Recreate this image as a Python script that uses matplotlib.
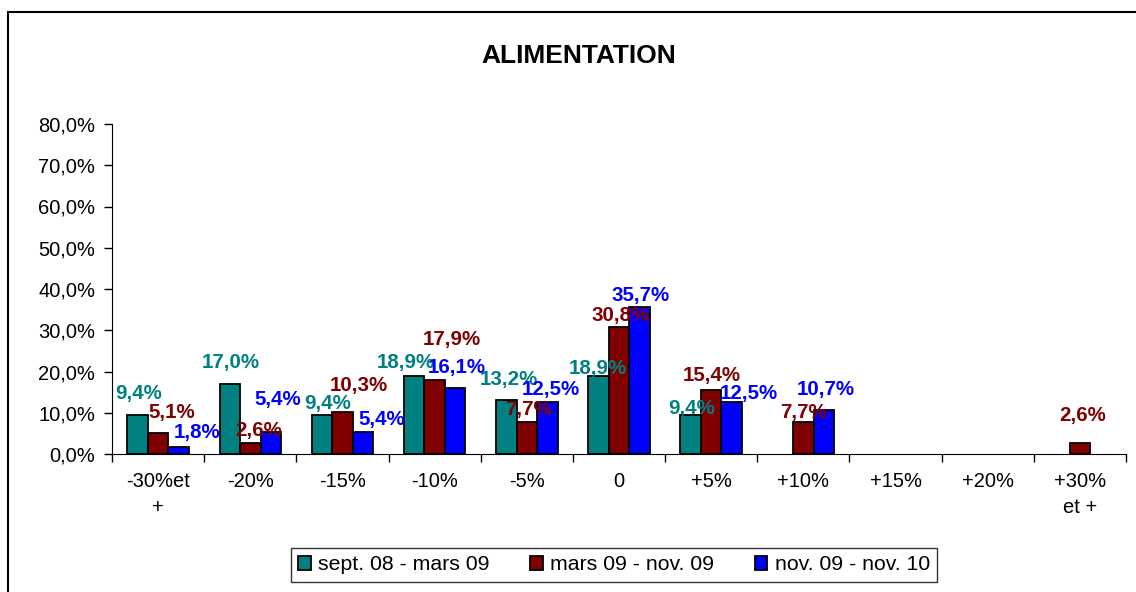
import numpy as np
import matplotlib.pyplot as plt
from matplotlib.patches import Rectangle

plt.rcParams['font.family'] = ['Liberation Sans', 'DejaVu Sans']

# Données
categories = ['-30%et\n+', '-20%', '-15%', '-10%', '-5%', '0', '+5%', '+10%', '+15%', '+20%', '+30%\net +']
series_names = ['sept. 08 - mars 09', 'mars 09 - nov. 09', 'nov. 09 - nov. 10']
sept08_mars09 = [9.4, 17.0, 9.4, 18.9, 13.2, 18.9, 9.4, np.nan, np.nan, np.nan, np.nan]
mars09_nov09 = [5.1, 2.6, 10.3, 17.9, 7.7, 30.8, 15.4, 7.7, np.nan, np.nan, 2.6]
nov09_nov10 = [1.8, 5.4, 5.4, 16.1, 12.5, 35.7, 12.5, 10.7, np.nan, np.nan, np.nan]
yticks = [0, 10, 20, 30, 40, 50, 60, 70, 80]

colors = ['#008080', '#800000', '#0000FF']

# décalage des étiquettes (dx, dy en pixels), comme placées dans l'original
label_nudge = [
    [(1, 16), (1, 16), (6, 6), (-8, 8), (3, 15), (-1, 2), (1, 1), None, None, None, None],
    [(14, 15), (8, 7), (16, 21), (17, 35), (2, 7), (2, 6), (1, 9), (0, 4), None, None, (3, 22)],
    [(19, 9), (7, 27), (19, 7), (2, 15), (4, 7), (1, 6), (17, 3), (2, 15), None, None, None],
]

fig = plt.figure(figsize=(11.36, 5.92), dpi=100)
ax = fig.add_axes([112/1136, 1 - 454/592, (1126 - 112)/1136, (454 - 124)/592])

x = np.arange(len(categories))
w = 0.222
px2pt = 72 / 100
for i, (vals, name, c) in enumerate(zip([sept08_mars09, mars09_nov09, nov09_nov10], series_names, colors)):
    pos = x + (i - 1) * w
    ax.bar(pos, vals, width=w, color=c, edgecolor='black', linewidth=1.3, label=name)
    for j, (px, v) in enumerate(zip(pos, vals)):
        if np.isnan(v):
            continue
        dx, dy = label_nudge[i][j]
        ax.annotate(f"{v:.1f}%".replace('.', ','), (px, v), xytext=(dx * px2pt, dy * px2pt),
                    textcoords='offset points', ha='center', va='baseline',
                    color=c, fontsize=14.8, fontweight='bold')

ax.set_xlim(-0.5, len(categories) - 0.5)
ax.set_ylim(0, 80)
ax.set_yticks(yticks)
ax.set_yticklabels([f"{t:.1f}%".replace('.', ',') for t in yticks], fontsize=14.5)

# graduations de l'axe x entre les catégories
ax.set_xticks(np.arange(len(categories) + 1) - 0.5)
ax.set_xticklabels([])
ax.set_xticks(x, minor=True)
ax.set_xticklabels(categories, minor=True, fontsize=14.5, linespacing=1.45)
ax.tick_params(axis='x', which='minor', length=0, pad=13)
ax.tick_params(axis='x', which='major', length=6, direction='out', width=1)
ax.tick_params(axis='y', length=6, direction='out', width=1, pad=6)

ax.spines['top'].set_visible(False)
ax.spines['right'].set_visible(False)

fig.text(579/1136, 1 - 56/592, 'ALIMENTATION', ha='center', va='center',
         fontsize=19, fontweight='bold')

leg = ax.legend(loc='center', bbox_to_anchor=(614/1136, 1 - 565/592),
                bbox_transform=fig.transFigure, ncol=3, fontsize=15.3,
                fancybox=False, edgecolor='black', handlelength=0.6,
                handleheight=0.6, handletextpad=0.35, columnspacing=1.9,
                borderpad=0.35)
leg.get_frame().set_linewidth(1)

# cadre extérieur
fig.patches.append(Rectangle((8/1136, -0.1), 1.2, 1.1 - 12/592, transform=fig.transFigure,
                             fill=False, edgecolor='black', linewidth=1.5))

fig.savefig('out.png', dpi=100)
